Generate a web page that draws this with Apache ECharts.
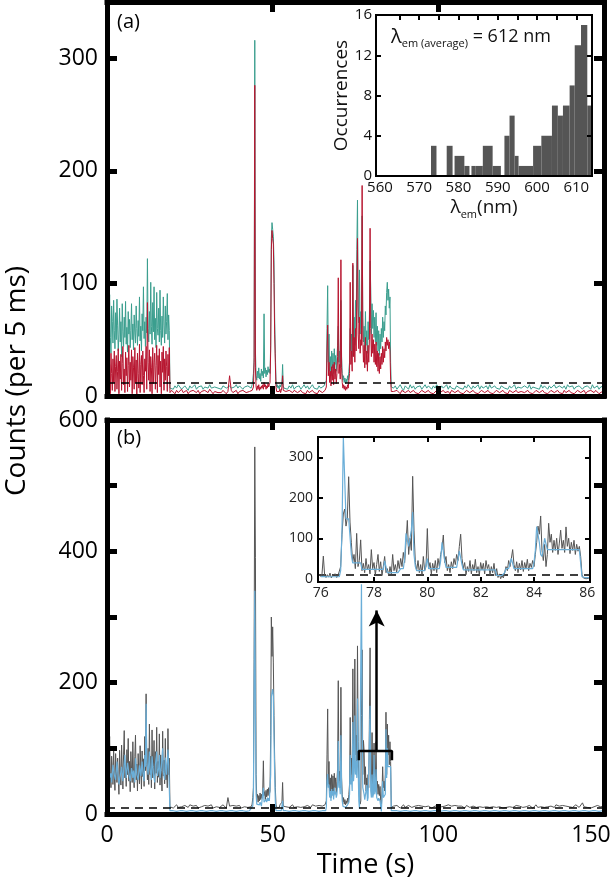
<!DOCTYPE html>
<html><head><meta charset="utf-8">
<script src="https://cdn.jsdelivr.net/npm/echarts@6/dist/echarts.min.js"></script>
<style>html,body{margin:0;padding:0;background:#fff}#c{width:611px;height:878px}</style>
</head><body><div id="c"></div>
<script>
// ---------- time grid of the main traces (segment start, sample step in s) ----------
const segStart = [0, 19, 43.6, 54, 65.6, 86.5];
const segStep  = [0.2, 0.5, 0.2, 0.5, 0.2, 0.5];

// ---------- panel (a): teal trace ----------
const tealA = [
 [60,88,45,72,90,52,38,80,66,47,85,58,42,74,50,86,63,40,55,78,
  48,66,35,82,57,44,70,52,84,46,61,39,75,55,68,43,58,82,50,64,
  41,72,56,47,80,60,45,67,53,88,49,62,40,73,58,97,51,66,44,70,
  56,122,60,48,75,55,101,62,46,83,57,97,50,69,43,92,60,54,78,48,
  94,58,45,71,52,88,63,47,80,55,66,91,50,72,58],
 [7,8,6,9,7,10,8,6,7,9,8,5,9,7,8,10,6,8,7,9,6,8,9,7,10,7,6,8,9,7,
  8,6,9,10,7,8,9,7,6,8,10,7,9,8,6,8,7,9,8,7],
 [8,10,14,20,34,316,40,18,14,22,16,25,15,20,13,24,18,22,16,73,
  20,25,17,23,19,26,21,24,20,45,140,154,148,142,120,70,38,14,8,10,
  7,9,6,10,8,7,12,28,9,7],
 [8,6,9,7,10,6,8,7,9,6,8,10,7,9,6,8,10,7,8,6,9,7,8,9],
 [8,10,9,14,60,98,30,55,22,35,18,40,25,38,20,42,28,36,22,34,
  45,62,30,40,25,85,35,20,14,18,12,16,11,15,12,18,14,22,30,60,
  40,55,35,116,50,70,45,85,60,130,174,80,65,112,55,75,60,160,70,48,
  62,40,75,45,58,38,66,50,72,120,95,55,82,60,76,52,70,48,74,45,
  62,40,58,36,55,42,60,48,70,52,66,58,80,72,92,101,85,95,78,88,
  30,8],
 [7,9,6,8,10,7,5,9,8,6,10,7,9,6,8,7,9,6,8,10,7,9,8,6,9,7,10,8,6,9,
  7,8,10,6,9,7,8,6,9,10,7,8,6,9,7,10,8,6,9,7,8,10,6,9,7,8,9,6,10,7,
  8,9,7,8,6,9,10,7,8,6,9,7,8,10,6,8,9,7,6,9,8,7,10,6,8,9,7,8,6,10,
  7,9,8,6,9,7,8,10,7,6,9,8,7,9,6,10,8,7,9,6,8,7,9,10,6,8,7,9,8,6,
  10,7,8,9,6,8,7,9]
];
// ---------- panel (a): red trace ----------
const redA = [
 [30,3,35,8,28,2,38,20,5,33,12,40,4,26,36,6,22,42,2,31,
  15,37,5,29,44,10,24,3,39,18,34,4,27,45,8,30,14,41,2,35,
  25,6,43,12,32,1,38,20,7,46,3,28,36,10,40,18,3,33,22,44,
  6,83,30,14,41,4,35,25,2,43,11,30,38,6,27,45,3,36,19,42,
  8,31,2,39,21,44,5,33,14,40,26,4,37,18,43],
 [3,5,4,2,5,3,4,6,3,4,5,2,4,3,5,4,3,5,2,4,3,5,4,3,6,4,2,4,5,3,
  4,3,5,4,2,4,18,5,3,4,5,2,4,3,5,4,3,2,4,5],
 [4,5,6,8,30,276,25,8,5,9,6,10,5,8,6,9,7,10,6,12,
  8,10,6,9,7,11,8,10,12,40,130,147,140,135,100,55,30,8,4,5,
  3,5,4,6,3,5,8,18,5,4],
 [4,3,5,4,3,5,4,3,4,5,3,4,2,5,3,4,5,3,4,2,5,4,3,4],
 [4,5,4,8,40,63,18,30,12,22,9,26,14,28,10,30,15,24,11,20,
  35,105,20,28,15,121,25,12,7,10,6,9,5,8,6,10,7,14,20,101,
  28,40,22,118,35,52,30,60,40,95,140,55,42,70,38,50,45,187,50,30,
  45,25,52,28,40,22,45,30,50,149,60,35,55,38,50,30,46,28,48,26,
  40,22,38,20,35,24,38,28,44,30,42,34,48,40,52,45,50,42,48,40,
  15,4],
 [4,3,5,4,2,5,4,3,4,5,3,4,5,3,4,2,3,5,4,3,4,5,3,4,2,3,5,4,3,4,
  5,3,4,4,2,5,4,3,4,5,3,4,2,3,5,4,3,4,5,3,4,2,3,5,4,3,4,5,3,4,
  2,3,5,4,3,4,5,3,4,2,5,4,3,4,5,3,2,4,5,3,4,5,3,4,2,3,5,4,3,4,
  5,3,4,2,3,5,4,3,4,5,3,4,2,5,3,4,5,3,4,2,3,5,4,3,4,5,2,4,3,5,
  4,3,5,4,2,3,4,5]
];
// ---------- panel (b): gray (raw) trace ----------
const grayB = [
 [80,112,50,95,118,60,40,88,70,45,100,58,36,92,65,48,85,55,30,97,
  62,44,105,70,38,90,127,55,72,42,98,60,115,50,80,34,95,68,48,110,
  58,40,88,120,52,76,35,92,64,46,104,70,38,96,57,84,42,118,66,183,
  75,52,100,45,137,60,88,40,128,55,72,112,38,95,62,132,48,80,56,122,
  44,90,66,35,126,58,82,46,115,52,70,40,130,60,85],
 [11,13,9,12,14,10,12,11,9,13,12,10,14,11,12,10,13,9,12,11,10,13,11,12,10,
  14,9,12,11,13,10,12,14,11,9,25,12,10,13,11,12,10,13,9,12,11,14,10,12,11],
 [12,15,25,40,235,559,391,60,25,30,18,28,20,32,22,30,24,35,81,28,
  34,22,36,26,38,28,40,30,35,120,300,240,285,230,150,85,40,15,10,13,
  9,12,10,14,11,12,18,48,12,10],
 [11,13,10,12,14,10,12,11,13,10,12,11,9,13,12,10,14,11,12,10,13,11,12,10],
 [12,14,12,20,90,160,45,80,30,55,25,60,35,58,28,62,40,55,30,50,
  70,203,50,65,40,193,55,30,18,25,15,22,14,20,16,24,18,30,45,147,
  60,85,50,221,70,100,236,90,120,80,256,110,40,25,15,20,150,250,60,112,
  96,45,72,35,55,30,60,40,144,253,70,45,124,40,60,108,45,55,110,40,
  50,30,45,28,42,20,8,35,72,40,50,35,60,155,60,137,90,120,75,110,
  80,10],
 [12,10,13,11,9,12,14,10,11,13,12,10,9,12,11,13,10,12,14,11,
  10,12,13,9,11,12,10,13,12,11,9,12,10,14,11,12,10,13,11,12,
  10,12,11,9,13,12,10,11,12,14,10,12,11,13,10,12,11,9,10,12,
  11,13,10,12,11,14,9,12,10,13,11,12,10,9,13,11,12,14,10,12,
  11,10,13,12,9,11,14,10,12,11,13,10,12,11,9,12,13,10,14,11,
  12,10,13,11,12,9,11,13,10,12,14,11,10,12,17,11,12,10,13,9,
  12,11,10,13,12,11,9,12]
];
// ---------- panel (b): blue (fitted) trace ----------
const blueB = [
 [85,85,70,70,55,55,62,48,48,75,75,60,60,52,52,80,68,68,45,45,
  58,58,72,72,50,64,64,90,70,55,55,78,78,62,62,50,50,70,70,55,
  66,66,48,85,85,60,60,52,52,74,74,58,58,80,65,65,50,90,72,168,
  80,80,60,60,95,70,70,52,88,88,62,62,48,75,75,95,58,58,70,90,
  55,55,72,72,100,64,64,52,86,86,60,60,98,75,75],
 [5,4,5,5,4,5,5,4,5,5,4,5,5,4,5,5,4,5,5,4,5,5,4,5,5,4,5,5,4,5,
  5,4,5,5,4,6,5,4,5,5,4,5,5,4,5,5,4,5,5,4],
 [5,5,12,30,200,340,150,30,15,18,12,16,14,18,15,12,10,14,40,18,
  20,15,22,18,25,20,24,20,22,60,178,185,190,180,120,60,20,5,5,5,
  5,5,5,5,5,5,8,20,5,5],
 [5,5,4,5,5,4,5,5,4,5,5,4,5,5,4,5,5,4,5,5,4,5,5,4],
 [5,5,5,10,50,61,40,45,25,35,20,38,28,35,22,40,30,34,25,30,
  45,111,40,45,30,120,40,20,12,14,10,12,10,12,10,14,12,18,30,90,
  45,55,35,140,50,65,150,60,80,55,176,70,20,8,6,8,350,148,40,38,
  30,22,25,20,44,20,25,28,112,165,35,25,60,25,30,90,30,35,68,25,
  22,20,24,22,20,12,4,25,50,25,28,25,30,129,55,100,72,72,72,72,
  72,5],
 [5,4,5,5,4,5,5,4,5,5,4,5,5,4,5,5,4,5,5,4,5,5,4,5,5,4,5,5,4,5,
  5,4,5,5,4,5,5,4,5,5,4,5,5,4,5,5,4,5,5,4,5,5,4,5,5,4,5,5,4,5,
  5,4,5,5,4,5,5,4,5,5,4,5,5,4,5,5,4,5,5,4,5,5,4,5,5,4,5,5,4,5,
  5,4,5,5,4,5,5,4,5,5,4,5,5,4,5,5,4,5,5,4,5,5,4,5,5,4,5,5,4,5,
  5,4,5,5,4,5,5,4]
];

// ---------- inset (b): 76-86 s zoom ----------
const insetStart = 76.0, insetStep = 0.05;
const insetGray = [
 5,12,56,8,3,10,4,14,2,9, 5,12,3,8,6,30,110,160,172,130,
 150,252,140,90,40,60,25,112,30,45, 96,20,38,15,50,22,35,12,72,25,
 40,10,35,60,18,42,8,30,55,15, 25,8,30,12,60,20,35,15,45,25,
 50,30,65,40,90,144,60,100,70,253, 120,40,20,45,15,35,10,55,20,30,
 124,25,40,12,38,20,45,15,50,30, 60,75,108,40,55,20,35,15,42,25,
 50,35,60,45,80,110,50,25,40,10, 30,18,45,12,35,20,48,15,30,10,
 40,22,38,12,45,25,35,10,30,15, 38,8,25,3,12,0,8,2,15,30,
 20,45,30,50,72,35,20,42,15,38, 22,45,18,40,25,48,20,38,28,45,
 30,60,90,130,110,155,70,45,85,30, 60,137,90,110,65,95,70,100,60,88,
 120,75,95,65,128,80,100,62,90,70, 95,60,85,68,80,55,10,2,4,0,
 3,1,2];
const insetBlue = [
 5,5,6,5,5,5,5,5,5,5, 5,5,5,5,5,20,120,350,350,148,
 148,148,148,60,39,39,39,39,39,39, 39,23,23,23,23,23,23,23,23,23,
 23,23,23,23,23,23,23,23,44,44, 15,15,15,15,15,15,15,15,15,15,
 25,25,25,50,112,112,80,80,120,165, 60,30,20,20,20,20,20,20,20,20,
 50,25,25,25,25,25,25,25,25,25, 45,90,90,45,28,28,28,28,28,28,
 28,28,28,28,68,68,35,22,22,22, 22,22,22,22,22,22,22,22,22,22,
 22,22,22,22,22,22,22,22,22,22, 22,22,8,8,8,8,8,8,15,25,
 25,25,25,50,50,25,25,25,25,25, 25,25,25,25,25,25,25,25,25,25,
 40,70,129,129,90,60,55,55,100,100, 72,72,72,72,72,72,72,72,72,72,
 72,72,72,72,72,72,72,72,72,72, 72,72,72,72,72,72,5,3,3,3,
 3,3,3];

// ---------- inset (a): emission wavelength histogram ----------
const histLo    = [573.0,577.0,579.0,581.5,583.3,584.4,586.2,588.7,591.7,593.0,594.3,595.3,599.0,601.1,603.8,605.3,606.6,608.3,609.6,611.2,612.8];
const histHi    = [574.4,578.5,581.5,582.8,584.4,586.2,588.7,590.8,593.0,594.3,595.3,599.0,601.1,603.8,605.3,606.6,608.3,609.6,611.2,612.8,614.0];
const histCount = [3,3,2,1,1,1,3,1,4,6,2,1,3,4,7,6,7,9,13,15,7];

// ---------- thresholds and annotations (data units) ----------
const thresholdA = 12, thresholdB = 10, thresholdInset = 10;
const bracketT = [76, 86], bracketTop = 96, bracketFoot = 82;
const arrowT = 81.4, arrowTo = 310;

// ---------- ticks ----------
const histLabels = [560,570,580,590,600,610];
const histTicks  = [565,570,575,580,585,590,595,600,605,610];
const insetXLabels = [76,78,80,82,84,86];
const insetXTicks  = [78,80,82,84];
const insetYLabels = [0,100,200,300];

function build(segs){
  const out=[];
  segs.forEach((vals,k)=>vals.forEach((v,i)=>out.push([+(segStart[k]+i*segStep[k]).toFixed(2), v])));
  return out;
}
function buildInset(vals){ return vals.map((v,i)=>[+(insetStart+i*insetStep).toFixed(2), v]); }

const FONT = '"Open Sans", "DejaVu Sans", sans-serif';
const TEAL='#3a9e8e', RED='#b7152f', GRAY='#555555', BLUE='#6aaed8';

function mainX(grid, pos, labels){
  return {type:'value', gridIndex:grid, min:0, max:150, interval:50, position:pos, z:4,
    axisLine:{show:true, onZero:false, lineStyle:{color:'#000', width:5, cap:'square'}},
    axisTick:{show:true, inside:true, length:10, lineStyle:{color:'#000', width:5}},
    axisLabel:{show:labels, fontSize:23, color:'#000', fontFamily:FONT, margin:10,
      formatter: v => (v === 150 ? '{m|150}' : String(v)),
      rich:{m:{fontSize:23, color:'#000', fontFamily:FONT, padding:[0,26,0,0]}}},
    splitLine:{show:false}};
}
function mainY(grid, pos, max, labels, fmt){
  return {type:'value', gridIndex:grid, min:0, max:max, interval:100, position:pos, z:4,
    axisLine:{show:true, onZero:false, lineStyle:{color:'#000', width:5, cap:'square'}},
    axisTick:{show:true, inside:true, length:10, lineStyle:{color:'#000', width:5}},
    axisLabel:{show:labels, fontSize:23, color:'#000', fontFamily:FONT, margin:9, formatter:fmt, showMaxLabel: max % 100 === 0},
    splitLine:{show:false}};
}
const thinLine = {show:true, onZero:false, lineStyle:{color:'#000', width:2, cap:'square'}};

const xAxes = [
  mainX(0,'bottom',false), mainX(0,'top',false),
  Object.assign(mainX(1,'bottom',true), {name:'Time (s)', nameLocation:'middle', nameGap:38,
     nameTextStyle:{fontSize:27, color:'#000', fontFamily:FONT, padding:[0,0,0,20]}}),
  mainX(1,'top',false),
  {type:'value', gridIndex:2, min:559, max:614, position:'bottom', z:8, axisLine:thinLine,
    axisTick:{show:false},
    axisLabel:{show:true, customValues:histLabels, fontSize:15, color:'#111', fontFamily:FONT, margin:4},
    splitLine:{show:false},
    name:'{l|λ}{s|em}{n|(nm)}', nameLocation:'middle', nameGap:20,
    nameTextStyle:{fontFamily:FONT, color:'#111', rich:{
      l:{fontSize:19, fontFamily:FONT, color:'#111', lineHeight:24},
      s:{fontSize:11, fontFamily:FONT, color:'#111', verticalAlign:'bottom', lineHeight:12},
      n:{fontSize:19, fontFamily:FONT, color:'#111', lineHeight:24}}}},
  {type:'value', gridIndex:2, min:559, max:614, position:'top', z:8, axisLine:thinLine,
    axisTick:{show:true, inside:true, length:5, customValues:histTicks, lineStyle:{color:'#000', width:2}},
    axisLabel:{show:false}, splitLine:{show:false}},
  {type:'value', gridIndex:3, min:75.9, max:86.1, position:'bottom', z:8, axisLine:thinLine,
    axisTick:{show:true, inside:true, length:5, customValues:insetXTicks, lineStyle:{color:'#000', width:2}},
    axisLabel:{show:true, customValues:insetXLabels, fontSize:14, color:'#222', fontFamily:FONT, margin:4},
    splitLine:{show:false}},
  {type:'value', gridIndex:3, min:75.9, max:86.1, position:'top', z:8, axisLine:thinLine,
    axisTick:{show:true, inside:true, length:5, customValues:insetXTicks, lineStyle:{color:'#000', width:2}},
    axisLabel:{show:false}, splitLine:{show:false}}
];
const yAxes = [
  mainY(0,'left',350,true), mainY(0,'right',350,false),
  mainY(1,'left',600,true, v => (v % 200 === 0 ? String(v) : '')), mainY(1,'right',600,false),
  {type:'value', gridIndex:2, min:0, max:16, interval:4, position:'left', z:8, axisLine:thinLine,
    axisTick:{show:true, inside:true, length:5, lineStyle:{color:'#000', width:2}},
    axisLabel:{show:true, fontSize:15, color:'#111', fontFamily:FONT, margin:4},
    splitLine:{show:false},
    name:'Occurrences', nameLocation:'middle', nameGap:23,
    nameTextStyle:{fontSize:19, color:'#111', fontFamily:FONT}},
  {type:'value', gridIndex:2, min:0, max:16, interval:4, position:'right', z:8, axisLine:thinLine,
    axisTick:{show:true, inside:true, length:5, lineStyle:{color:'#000', width:2}},
    axisLabel:{show:false}, splitLine:{show:false}},
  {type:'value', gridIndex:3, min:-8, max:350, position:'left', z:8, axisLine:thinLine,
    axisTick:{show:true, inside:true, length:5, customValues:[100,200,300], lineStyle:{color:'#000', width:2}},
    axisLabel:{show:true, customValues:insetYLabels, fontSize:14, color:'#222', fontFamily:FONT, margin:5},
    splitLine:{show:false}},
  {type:'value', gridIndex:3, min:-8, max:350, position:'right', z:8, axisLine:thinLine,
    axisTick:{show:true, inside:true, length:5, customValues:[100,200,300], lineStyle:{color:'#000', width:2}},
    axisLabel:{show:false}, splitLine:{show:false}}
];

const dashed = (val, w) => ({symbol:'none', silent:true, label:{show:false},
  lineStyle:{color:'#000', type:[8,6], width:w}, data:[{yAxis:val}]});

const lineSeries = (xi, yi, data, color, w, z, extra) => Object.assign({
  type:'line', xAxisIndex:xi, yAxisIndex:yi, data:data, symbol:'none', showSymbol:false,
  lineStyle:{color:color, width:w}, z:z, silent:true, animation:false, clip:true}, extra||{});

const gridBase = {outerBoundsMode:'none', containLabel:false};
const option = {
  animation:false,
  backgroundColor:'#fff',
  grid:[
    Object.assign({left:107, top:2, width:497, height:394}, gridBase),
    Object.assign({left:107, top:420, width:497, height:394}, gridBase),
    Object.assign({left:376, top:15, width:216, height:161, show:true, backgroundColor:'#fff', borderWidth:0, z:5}, gridBase),
    Object.assign({left:318, top:437, width:272, height:145, show:true, backgroundColor:'#fff', borderWidth:0, z:5}, gridBase)
  ],
  xAxis:xAxes,
  yAxis:yAxes,
  series:[
    lineSeries(0,0,build(tealA),TEAL,1,2),
    lineSeries(0,0,build(redA),RED,1,3,{markLine:dashed(thresholdA,1.5)}),
    lineSeries(2,2,build(grayB),GRAY,1,2),
    lineSeries(2,2,build(blueB),BLUE,1.2,3,{markLine:dashed(thresholdB,1.5)}),
    lineSeries(2,2,[[bracketT[0],bracketFoot],[bracketT[0],bracketTop],[bracketT[1],bracketTop],[bracketT[1],bracketFoot]],'#000',2.5,4,{
      markLine:{symbol:['none','arrow'], symbolSize:[12,16], silent:true, label:{show:false},
        lineStyle:{color:'#000', type:'solid', width:2.5},
        data:[[{coord:[arrowT,bracketTop]},{coord:[arrowT,arrowTo]}]]}}),
    {type:'custom', xAxisIndex:4, yAxisIndex:4, z:6, silent:true, animation:false,
      data: histLo.map((lo,i)=>[lo, histHi[i], histCount[i]]),
      encode:{x:[0,1], y:2},
      renderItem:(params, api)=>{
        const p0 = api.coord([api.value(0), api.value(2)]);
        const p1 = api.coord([api.value(1), 0]);
        return {type:'rect', shape:{x:p0[0], y:p0[1], width:p1[0]-p0[0], height:p1[1]-p0[1]},
                style:{fill:'#555555'}};
      }},
    lineSeries(6,6,buildInset(insetGray),GRAY,1,6),
    lineSeries(6,6,buildInset(insetBlue),BLUE,1.2,7,{markLine:dashed(thresholdInset,1.5)})
  ],
  graphic:[
    {type:'text', left:117, top:12, z:20, style:{text:'(a)', font:'20px "Open Sans"', fill:'#000'}},
    {type:'text', left:117, top:428, z:20, style:{text:'(b)', font:'20px "Open Sans"', fill:'#000'}},
    {type:'text', x:17, y:381, rotation:Math.PI/2, z:20,
      style:{text:'Counts (per 5 ms)', font:'28px "Open Sans"', fill:'#000', textAlign:'center', textVerticalAlign:'middle'}},
    {type:'text', left:391, top:27, z:20,
      style:{text:'{l|λ}{s|em (average)}{n| = 612 nm}', fill:'#111',
        rich:{
          l:{fontSize:20, fontFamily:FONT, fill:'#111', lineHeight:24, verticalAlign:'middle'},
          s:{fontSize:11, fontFamily:FONT, fill:'#111', lineHeight:13, verticalAlign:'bottom'},
          n:{fontSize:18, fontFamily:FONT, fill:'#111', lineHeight:24, verticalAlign:'middle'}}}}
  ]
};
const chart = echarts.init(document.getElementById('c'), null, {renderer:'canvas'});
chart.setOption(option);
</script></body></html>
